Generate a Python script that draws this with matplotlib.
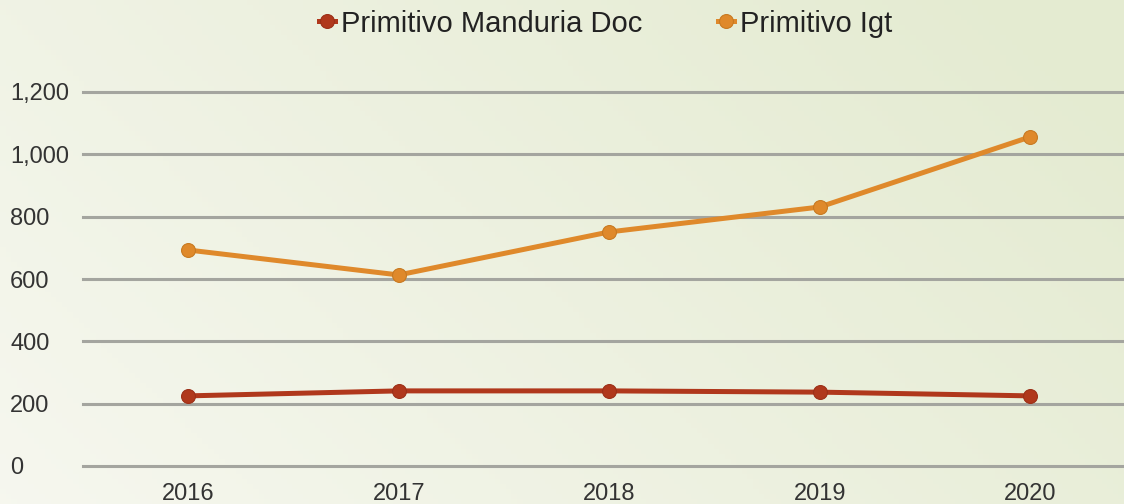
import numpy as np
import matplotlib
matplotlib.use("Agg")
import matplotlib.pyplot as plt
from matplotlib.ticker import FuncFormatter

plt.rcParams['font.family'] = ['Liberation Sans', 'DejaVu Sans']

# data
years = [2016, 2017, 2018, 2019, 2020]
manduria_doc = [225, 241, 241, 237, 225]
primitivo_igt = [693, 613, 751, 831, 1056]
series_names = ['Primitivo Manduria Doc', 'Primitivo Igt']
y_ticks = [0, 200, 400, 600, 800, 1000, 1200]

red = '#b0381c'
orange = '#df892b'

fig = plt.figure(figsize=(11.24, 5.04), dpi=100)

# soft diagonal gradient background
bg = fig.add_axes([0, 0, 1, 1], zorder=-10)
gx, gy = np.meshgrid(np.linspace(0, 1, 200), np.linspace(0, 1, 100))
t = np.clip(0.75 * gx + 0.35 * (1 - gy), 0, 1) / 1.1
c0 = np.array([0.965, 0.969, 0.937])
c1 = np.array([0.890, 0.918, 0.812])
img = c0 + (c1 - c0) * t[..., None]
bg.imshow(img, aspect='auto', extent=[0, 1, 0, 1], origin='upper')
bg.axis('off')

ax = fig.add_axes([83 / 1124, 38 / 504, 1 - 83 / 1124, 374 / 504])
ax.patch.set_alpha(0)

ax.plot(years, manduria_doc, color=red, lw=3.6, marker='o', ms=10,
        mec='#9c3018', mew=0.8, label=series_names[0], clip_on=False, zorder=3)
ax.plot(years, primitivo_igt, color=orange, lw=3.6, marker='o', ms=10,
        mec='#c87a22', mew=0.8, label=series_names[1], clip_on=False, zorder=3)

ax.set_xlim(2015.5, 2015.5 + (1124 - 83) / 210.5)
ax.set_ylim(0, 1200)
ax.set_xticks(years)
ax.set_yticks(y_ticks)
ax.yaxis.set_major_formatter(FuncFormatter(lambda v, p: f'{int(v):,}'))
ax.grid(axis='y', color='#a4a59f', lw=2.2, zorder=0)
for gl in ax.get_ygridlines():
    gl.set_clip_on(False)
ax.set_axisbelow(True)
for s in ax.spines.values():
    s.set_visible(False)
ax.tick_params(length=0, labelsize=17, colors='#333333')
ax.tick_params(axis='x', pad=12)
ax.tick_params(axis='y', pad=52.5)
for lbl in ax.get_yticklabels():
    lbl.set_horizontalalignment('left')

leg = fig.legend(loc='center', bbox_to_anchor=(0.539, 0.953), ncol=2,
                 frameon=False, fontsize=21, handlelength=0.55,
                 handletextpad=0.2, columnspacing=2.6)
for txt in leg.get_texts():
    txt.set_color('#222222')

fig.savefig('out.png', dpi=100)
